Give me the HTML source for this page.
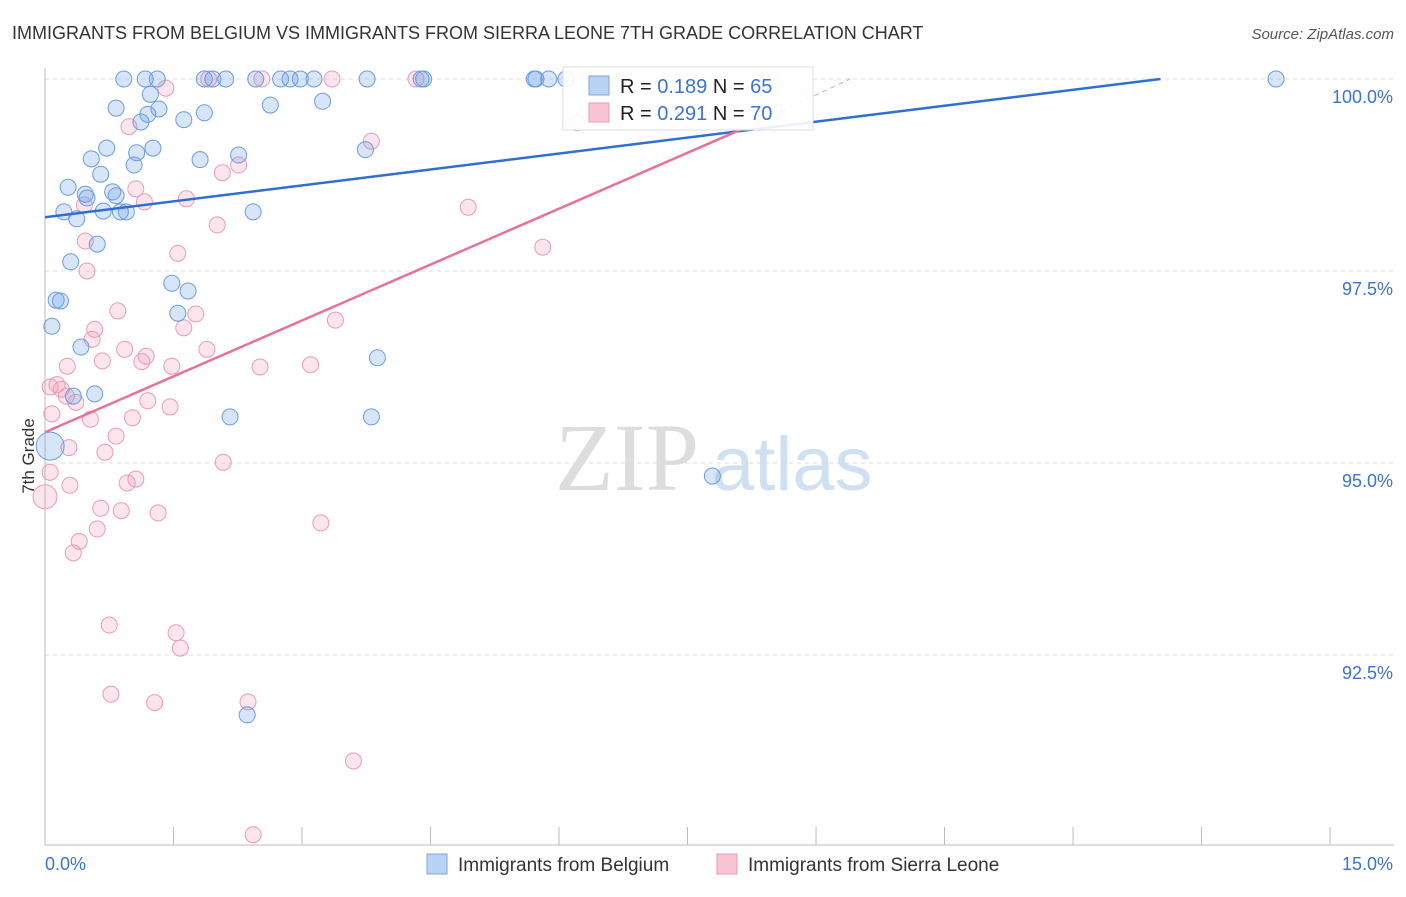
<!DOCTYPE html>
<html><head><meta charset="utf-8"><style>
body{margin:0;background:#fff;font-family:"Liberation Sans",sans-serif;}
</style></head><body>
<svg id="chart" width="1406" height="892" xmlns="http://www.w3.org/2000/svg" font-family="Liberation Sans, sans-serif">
<text x="12" y="39" font-size="18" fill="#333">IMMIGRANTS FROM BELGIUM VS IMMIGRANTS FROM SIERRA LEONE 7TH GRADE CORRELATION CHART</text>
<text x="1394" y="39" font-size="15" fill="#555" text-anchor="end" font-style="italic">Source: ZipAtlas.com</text>
<text transform="translate(34,456) rotate(-90)" font-size="17" fill="#333" text-anchor="middle">7th Grade</text>
<g><text x="555" y="490" font-size="96" fill="#ddd" font-family="Liberation Serif, serif">ZIP</text><text x="712" y="490" font-size="76" fill="#cfe0f3">atlas</text></g>
<g id="grid"></g><g id="pts"></g><g id="lines"></g>
<g>
<rect x="563" y="67" width="250" height="63" fill="#fff" fill-opacity="0.9" stroke="#ddd"/>
<rect x="589" y="76" width="20" height="19" fill="#b8d3f4" stroke="#7aa6e0"/>
<rect x="589" y="103" width="20" height="19" fill="#f9c4d4" stroke="#ea9ab2"/>
<text x="620" y="93" font-size="20" fill="#222">R = <tspan fill="#3a73d0">0.189</tspan>   N = <tspan fill="#3a73d0">65</tspan></text>
<text x="620" y="120" font-size="20" fill="#222">R = <tspan fill="#3a73d0">0.291</tspan>   N = <tspan fill="#3a73d0">70</tspan></text>
</g>
<g>
<rect x="427" y="854" width="20" height="20" fill="#b8d3f4" stroke="#7aa6e0"/>
<text x="458" y="871" font-size="19" fill="#333">Immigrants from Belgium</text>
<rect x="717" y="854" width="20" height="20" fill="#f9c4d4" stroke="#ea9ab2"/>
<text x="748" y="871" font-size="19" fill="#333">Immigrants from Sierra Leone</text>
</g>
</svg>
<script>
const blueX=[0.92,1.17,1.31,1.86,1.96,2.11,2.46,2.75,2.86,2.98,3.14,3.76,4.39,4.42,5.71,5.73,5.88,6.08,14.37,1.23,0.83,1.33,2.63,3.24,1.86,1.20,1.12,1.62,0.72,1.26,1.07,2.26,3.74,0.54,1.81,1.04,0.65,0.27,0.47,0.79,0.49,0.83,0.22,0.68,0.88,0.95,0.37,2.43,0.61,0.30,1.48,1.67,0.13,0.18,1.55,0.08,0.42,3.88,0.58,0.33,2.16,3.81,0.06,7.79,2.36];
const blueY=[100,100,100,100,100,100,100,100,100,100,100,100,100,100,100,100,100,100,100,99.80,99.62,99.61,99.66,99.71,99.56,99.54,99.44,99.47,99.10,99.10,99.04,99.01,99.08,98.96,98.95,98.88,98.76,98.59,98.50,98.53,98.45,98.48,98.27,98.28,98.27,98.27,98.18,98.27,97.85,97.62,97.34,97.24,97.12,97.11,96.95,96.78,96.51,96.37,95.90,95.87,95.60,95.60,95.22,94.83,91.72];
const pinkX=[1.91,2.53,3.35,4.33,1.41,6.21,0.98,3.81,2.26,2.07,1.06,1.16,1.65,0.46,4.94,2.01,0.47,5.81,1.55,0.49,0.85,1.76,3.39,0.58,1.62,0.55,0.93,1.89,0.26,0.67,1.18,1.13,1.48,2.51,3.10,0.14,0.19,0.06,0.25,0.36,1.20,1.46,0.08,0.53,1.02,0.83,0.28,0.70,2.08,0.06,1.06,0.96,0.29,0.65,0.89,1.32,3.22,0.61,0.40,0.33,0.75,1.53,1.58,0.77,1.28,2.37,3.60,2.43,0];
const pinkY=[100,100,100,100,99.88,99.43,99.38,99.19,98.88,98.78,98.57,98.40,98.44,98.36,98.33,98.10,97.89,97.81,97.73,97.50,96.98,96.94,96.86,96.74,96.76,96.61,96.48,96.48,96.26,96.33,96.39,96.32,96.26,96.25,96.28,96.02,95.96,95.99,95.87,95.79,95.81,95.73,95.64,95.57,95.59,95.35,95.20,95.14,95.01,94.88,94.79,94.74,94.71,94.41,94.38,94.35,94.22,94.14,93.98,93.83,92.89,92.79,92.59,91.99,91.88,91.89,91.12,90.16,94.56];
const yTicks=[100,97.5,95,92.5];
const yTickLabels=["100.0%","97.5%","95.0%","92.5%"];
const xTicks=[0,1.5,3,4.5,6,7.5,9,10.5,12,13.5,15];
const blueLine=[[0,98.2],[13.02,100]];
const pinkLine=[[0,95.4],[8.12,99.34]];
const pinkDash=[[8.12,99.34],[9.4,100]];
const NS="http://www.w3.org/2000/svg";
const sx=v=>45+v*85.67, sy=v=>79+(100-v)*76.8;
function mk(tag,attrs,parent){const e=document.createElementNS(NS,tag);for(const k in attrs)e.setAttribute(k,attrs[k]);parent.appendChild(e);return e;}
const grid=document.getElementById('grid');
yTicks.forEach((t,i)=>{
 const l=mk('line',{x1:45,x2:1394,y1:sy(t),y2:sy(t),stroke:'#ddd','stroke-dasharray':'4,4'},grid);
 
 
 const tx=mk('text',{x:1393,y:sy(t)+24,'font-size':18,fill:'#3a73d0','text-anchor':'end'},grid);
 tx.textContent=yTickLabels[i];
 
 
});
const ax=mk('line',{x1:45,x2:45,y1:68,y2:845,stroke:'#bbb'},grid);


const bx=mk('line',{x1:45,x2:1394,y1:845,y2:845,stroke:'#bbb'},grid);


xTicks.forEach(t=>{
 const l=mk('line',{x1:sx(t),x2:sx(t),y1:827,y2:845,stroke:'#bbb'},grid);
 
 
});
const xl0=mk('text',{x:45,y:870,'font-size':18,fill:'#3a73d0'},grid);xl0.textContent='0.0%';


const xl1=mk('text',{x:1393,y:870,'font-size':18,fill:'#3a73d0','text-anchor':'end'},grid);xl1.textContent='15.0%';


const pts=document.getElementById('pts');
pinkX.forEach((x,i)=>{
 const c=mk('circle',{cx:sx(x),cy:sy(pinkY[i]),r:(x<0.05?12:8),fill:'rgba(244,150,180,0.25)',stroke:'#eb9bb4','stroke-width':1},pts);
 
 
});
blueX.forEach((x,i)=>{
 const c=mk('circle',{cx:sx(x),cy:sy(blueY[i]),r:(x<0.07&&blueY[i]<96?14:8),fill:'rgba(110,160,230,0.28)',stroke:'#6b9be0','stroke-width':1},pts);
 
 
});
const lines=document.getElementById('lines');
const b=mk('line',{x1:sx(blueLine[0][0]),y1:sy(blueLine[0][1]),x2:sx(blueLine[1][0]),y2:sy(blueLine[1][1]),stroke:'#2f6fd1','stroke-width':2.5},lines);


const p=mk('line',{x1:sx(pinkLine[0][0]),y1:sy(pinkLine[0][1]),x2:sx(pinkLine[1][0]),y2:sy(pinkLine[1][1]),stroke:'#e8719a','stroke-width':2.5},lines);


const pd=mk('line',{x1:sx(pinkDash[0][0]),y1:sy(pinkDash[0][1]),x2:sx(pinkDash[1][0]),y2:sy(pinkDash[1][1]),stroke:'#e8a0b8','stroke-width':1,'stroke-dasharray':'5,4'},lines);


</script>
</body></html>
